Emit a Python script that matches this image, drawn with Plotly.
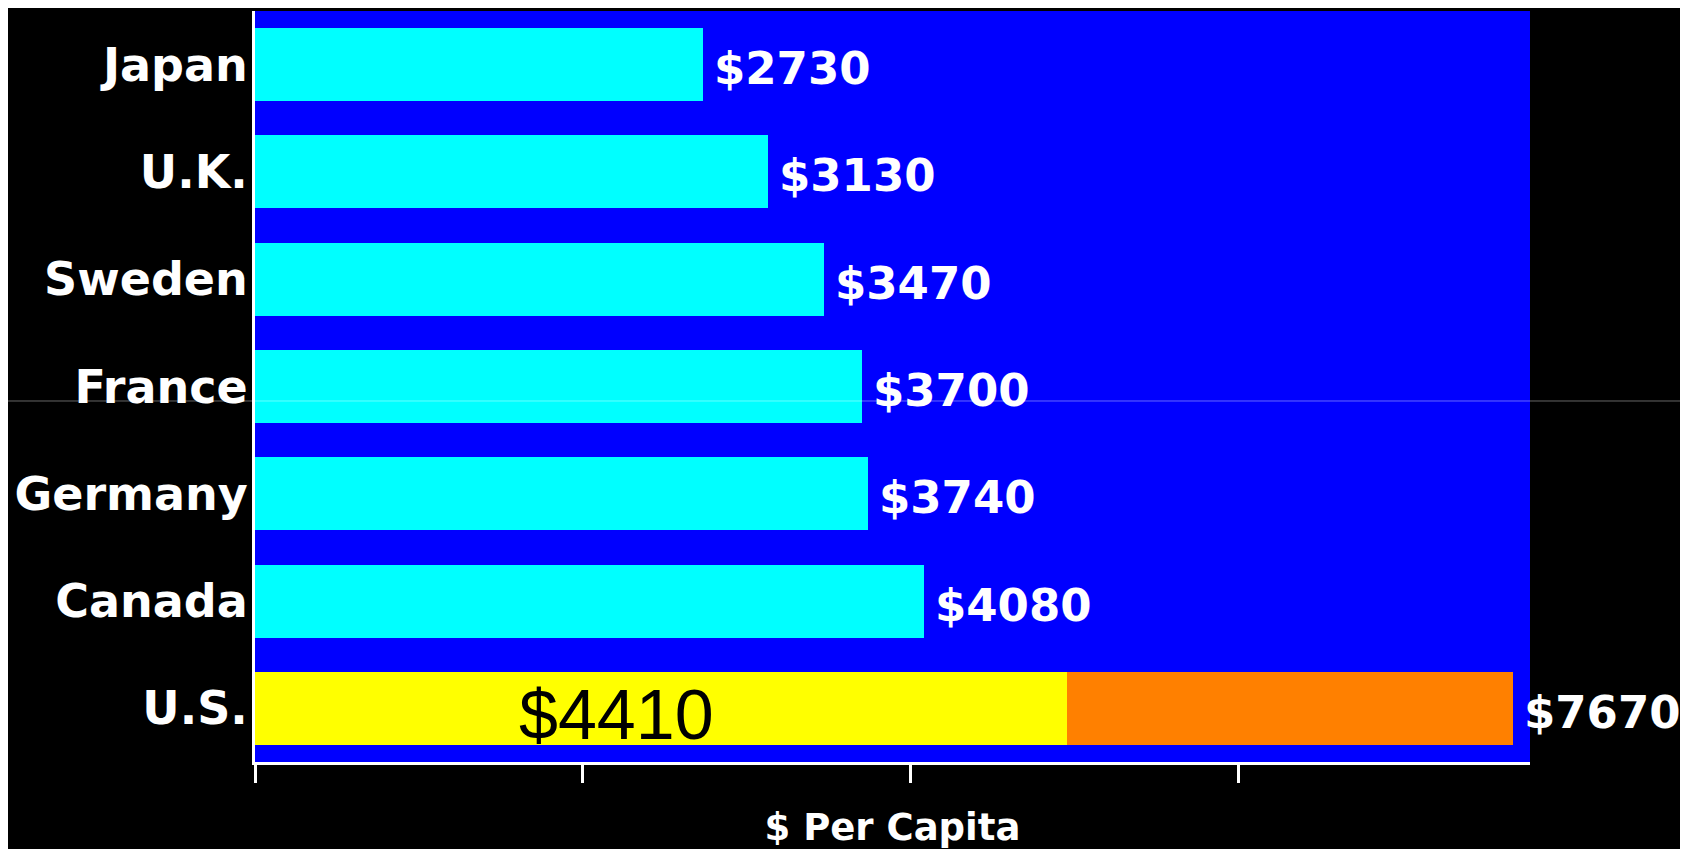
import plotly.graph_objects as go

# Data (top to bottom as shown)
countries = ["Japan", "U.K.", "Sweden", "France", "Germany", "Canada", "U.S."]
spending = [2730, 3130, 3470, 3700, 3740, 4080, 7670]
us_segment_yellow = 4950   # length of the yellow part of the U.S. bar as drawn
us_inner_label = 4410      # value printed inside the U.S. bar
xticks = [0, 2000, 4000, 6000]

others = countries[:-1]
others_vals = spending[:-1]
us_name = countries[-1]
us_total = spending[-1]

fig = go.Figure()
fig.add_trace(go.Bar(
    y=others, x=others_vals, orientation="h",
    marker=dict(color="#00FFFF", line=dict(width=0)),
    hoverinfo="x+y", showlegend=False,
))
fig.add_trace(go.Bar(
    y=[us_name], x=[us_segment_yellow], orientation="h",
    marker=dict(color="#FFFF00", line=dict(width=0)),
    showlegend=False,
))
fig.add_trace(go.Bar(
    y=[us_name], x=[us_total - us_segment_yellow], orientation="h",
    marker=dict(color="#FF8000", line=dict(width=0)),
    showlegend=False,
))

annotations = []
for c, v in zip(countries, spending):
    annotations.append(dict(
        x=v, y=c, xref="x", yref="y", text=f"${v}", showarrow=False,
        xanchor="left", yanchor="middle", xshift=9, yshift=-4,
        font=dict(family="DejaVu Sans", size=45, color="white", weight="bold"),
    ))
annotations.append(dict(
    x=us_inner_label / 2, y=us_name, xref="x", yref="y",
    text=f"${us_inner_label}", showarrow=False,
    xanchor="center", yanchor="middle", yshift=-7,
    font=dict(family="Liberation Sans", size=70, color="black"),
))

fig.update_layout(
    width=1680, height=841,
    margin=dict(l=247, r=158, t=3, b=87),
    paper_bgcolor="black", plot_bgcolor="#0000FF",
    barmode="stack", bargap=0.32,
    annotations=annotations,
    shapes=[dict(type="line", xref="paper", yref="paper",
                 x0=-0.3, x1=1.3, y0=0.4807, y1=0.4807,
                 line=dict(color="rgba(255,255,255,0.4)", width=1),
                 layer="above")],
    xaxis=dict(
        range=[0, 7775], showgrid=False, zeroline=False,
        showline=True, linecolor="white", linewidth=3,
        ticks="outside", ticklen=18, tickwidth=3, tickcolor="white",
        tickvals=xticks, showticklabels=False,
        title=dict(text="$ Per Capita", standoff=33,
                   font=dict(family="DejaVu Sans", size=37, color="white", weight="bold")),
    ),
    yaxis=dict(
        categoryorder="array", categoryarray=countries, autorange="reversed",
        showgrid=False, zeroline=False,
        showline=True, linecolor="white", linewidth=3, ticks="",
        ticklabelstandoff=-5,
        tickfont=dict(family="DejaVu Sans", size=46, color="white", weight="bold"),
    ),
)

fig.write_html("out.html")
